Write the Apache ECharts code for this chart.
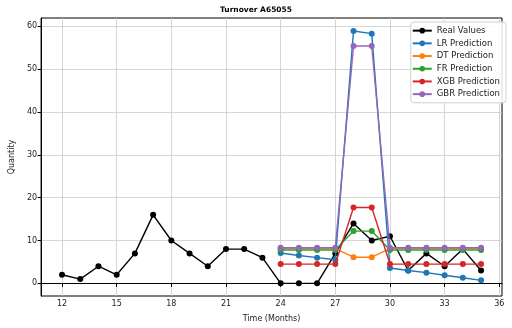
<!DOCTYPE html>
<html><head><meta charset="utf-8">
<script src="https://cdn.jsdelivr.net/npm/echarts@6/dist/echarts.min.js"></script>
<style>html,body{margin:0;padding:0;background:#fff}#c{width:512px;height:328px}</style>
</head><body><div id="c"></div>
<script>
const title = "Turnover A65055";
const realMonths = [12,13,14,15,16,17,18,19,20,21,22,23,24,25,26,27,28,29,30,31,32,33,34,35];
const realValues = [2,1,4,2,7,16,10,7,4,8,8,6,0,0,0,7,14,10,11,3,7,4,8,3];
const predMonths = [24,25,26,27,28,29,30,31,32,33,34,35];
const lrPred  = [7.1,6.5,6.0,5.5,58.9,58.3,3.6,3.0,2.5,1.9,1.3,0.7];
const dtPred  = [8.1,8.1,8.1,8.1,6.1,6.1,8.1,8.1,8.1,8.1,8.1,8.1];
const frPred  = [7.8,7.8,7.8,7.8,12.2,12.2,7.8,7.8,7.8,7.8,7.8,7.8];
const xgbPred = [4.5,4.5,4.5,4.5,17.7,17.7,4.5,4.5,4.5,4.5,4.5,4.5];
const gbrPred = [8.3,8.3,8.3,8.3,55.4,55.4,8.3,8.3,8.3,8.3,8.3,8.3];
const xTicks = [12,15,18,21,24,27,30,33,36];
const yTicks = [0,10,20,30,40,50,60];
const seriesNames = ["Real Values","LR Prediction","DT Prediction","FR Prediction","XGB Prediction","GBR Prediction"];
const colors = ["#000000","#1f77b4","#ff7f0e","#2ca02c","#d62728","#9467bd"];

const zip = (xs, ys) => xs.map((x, i) => [x, ys[i]]);
const seriesData = [zip(realMonths, realValues), zip(predMonths, lrPred), zip(predMonths, dtPred),
  zip(predMonths, frPred), zip(predMonths, xgbPred), zip(predMonths, gbrPred)];

const font = "DejaVu Sans";
const txt = '#222';
const chart = echarts.init(document.getElementById('c'), null, {renderer: 'canvas'});
chart.setOption({
  animation: false,
  color: colors,
  title: {text: title, left: 'center', top: 1, textStyle: {fontFamily: font, fontSize: 7.5, fontWeight: 'bold', color: '#000'}},
  grid: {left: 33, right: 10, top: 18, bottom: 29, show: true, borderColor: '#000', borderWidth: 1, backgroundColor: 'transparent'},
  legend: {
    orient: 'vertical', right: 6, top: 22,
    data: seriesNames,
    itemWidth: 19, itemHeight: 7, itemGap: 3.4,
    padding: [4, 6, 4, 1],
    backgroundColor: 'rgba(255,255,255,0.85)', borderColor: '#d0d0d0', borderWidth: 1, borderRadius: 3,
    textStyle: {fontFamily: font, fontSize: 8.5, color: txt, lineHeight: 9.3}
  },
  xAxis: {
    type: 'value', min: 10.85, max: 36.15,
    name: 'Time (Months)', nameLocation: 'middle', nameGap: 19,
    nameTextStyle: {fontFamily: font, fontSize: 8, color: txt},
    axisLine: {show: true, lineStyle: {color: '#000', width: 1}},
    axisTick: {show: true, length: 3.5, customValues: xTicks, lineStyle: {color: '#000'}},
    axisLabel: {customValues: xTicks, fontFamily: font, fontSize: 8, color: txt, margin: 4},
    splitLine: {show: true, lineStyle: {color: '#cccccc', width: 0.8}}
  },
  yAxis: {
    type: 'value', min: -2.95, max: 61.95,
    name: 'Quantity', nameLocation: 'middle', nameGap: 21, nameRotate: 90,
    nameTextStyle: {fontFamily: font, fontSize: 8, color: txt},
    axisLine: {show: true, lineStyle: {color: '#000', width: 1}},
    axisTick: {show: true, length: 3.5, customValues: yTicks, lineStyle: {color: '#000'}},
    axisLabel: {customValues: yTicks, fontFamily: font, fontSize: 8, color: txt, margin: 4},
    splitLine: {show: true, lineStyle: {color: '#cccccc', width: 0.8}}
  },
  series: seriesNames.map((n, i) => ({
    name: n, type: 'line', data: seriesData[i],
    symbol: 'circle', symbolSize: 6, showSymbol: true,
    lineStyle: {width: 1.4, color: colors[i]},
    itemStyle: {color: colors[i]},
    z: 2 + i
  }))
});
</script></body></html>
